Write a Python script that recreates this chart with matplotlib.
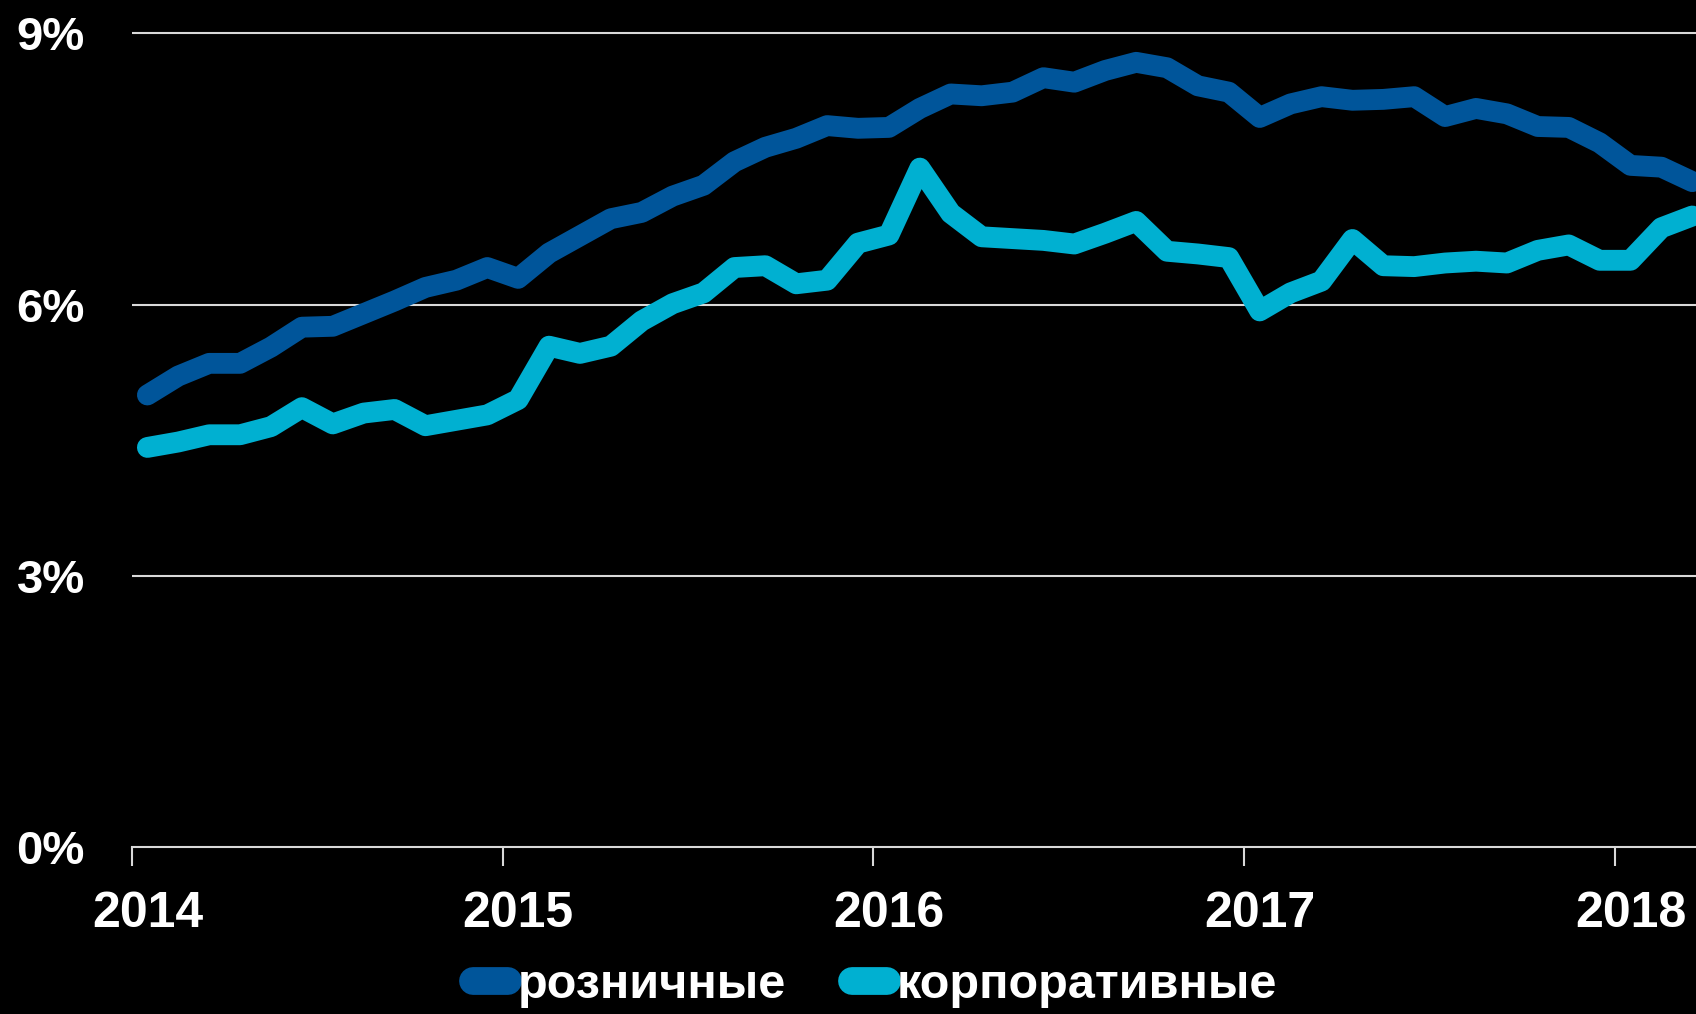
import numpy as np
import matplotlib
matplotlib.use('Agg')
import matplotlib.pyplot as plt

# ------------------------------------------------------------------------------
# Data (monthly, Jan 2014 - Mar 2018), %
# ------------------------------------------------------------------------------
retail = [5.00, 5.21, 5.35, 5.35, 5.53, 5.75, 5.76, 5.90, 6.04, 6.19, 6.27,
          6.41, 6.29, 6.57, 6.76, 6.95, 7.02, 7.20, 7.32, 7.58, 7.74, 7.84,
          7.98, 7.95, 7.96, 8.17, 8.33, 8.31, 8.35, 8.51, 8.46, 8.59, 8.68,
          8.62, 8.42, 8.35, 8.07, 8.22, 8.30, 8.26, 8.27, 8.30, 8.08, 8.17,
          8.11, 7.97, 7.96, 7.79, 7.54, 7.52, 7.36]
corp = [4.42, 4.48, 4.56, 4.56, 4.65, 4.86, 4.68, 4.80, 4.84, 4.66, 4.72,
        4.78, 4.95, 5.54, 5.46, 5.54, 5.82, 6.01, 6.13, 6.41, 6.43, 6.23,
        6.27, 6.68, 6.77, 7.51, 7.01, 6.75, 6.73, 6.71, 6.67, 6.79, 6.92,
        6.59, 6.56, 6.52, 5.93, 6.13, 6.26, 6.72, 6.43, 6.42, 6.46, 6.48,
        6.46, 6.60, 6.66, 6.49, 6.49, 6.85, 6.98]
year_labels = ['2014', '2015', '2016', '2017', '2018']
y_ticks = [0, 3, 6, 9]
series_names = ['розничные', 'корпоративные']

col_retail = '#00559A'
col_corp = '#00B0D1'
col_grid = '#D9D9D9'

plt.rcParams['font.family'] = ['Liberation Sans', 'DejaVu Sans']
plt.rcParams['font.weight'] = 'bold'

# ------------------------------------------------------------------------------
# Plot
# ------------------------------------------------------------------------------
fig = plt.figure(figsize=(16.96, 10.14), dpi=100, facecolor='black')
ax = fig.add_axes([0.0778, 0.1647, 0.9222, 0.8202], facecolor='black')

x = np.arange(len(retail))
ax.plot(x, retail, color=col_retail, linewidth=15, solid_capstyle='round',
        solid_joinstyle='round', label=series_names[0], zorder=3)
ax.plot(x, corp, color=col_corp, linewidth=15, solid_capstyle='round',
        solid_joinstyle='round', label=series_names[1], zorder=3)

ax.set_xlim(-0.5, 50.12)
ax.set_ylim(0, 9.2)

# gridlines
for yv in y_ticks[1:]:
    ax.axhline(yv, color=col_grid, linewidth=1.5, zorder=1)

for s in ['top', 'right', 'left']:
    ax.spines[s].set_visible(False)
ax.spines['bottom'].set_color(col_grid)
ax.spines['bottom'].set_linewidth(1.5)

ax.set_yticks(y_ticks)
ax.set_yticklabels([str(v) + '%' for v in y_ticks])
ax.tick_params(axis='y', length=0, pad=34, labelsize=34, labelcolor='white')

ax.set_xticks([0, 12, 24, 36, 48])
ax.set_xticklabels(year_labels)
ax.set_xticks([-0.5, 11.5, 23.5, 35.5, 47.5], minor=True)
ax.tick_params(axis='x', which='major', length=0, pad=32, labelsize=36,
               labelcolor='white')
ax.tick_params(axis='x', which='minor', length=14, width=1.5,
               color=col_grid, direction='out')

leg = fig.legend(loc='center', bbox_to_anchor=(0.516, 0.028), ncol=2,
                 frameon=False, fontsize=35, handlelength=0.72,
                 handletextpad=0.2, columnspacing=1.35, labelcolor='white',
                 borderpad=0.1)
for h in leg.legend_handles:
    h.set_linewidth(20)
    h.set_solid_capstyle('round')

fig.savefig('out.png', dpi=100, facecolor='black')
